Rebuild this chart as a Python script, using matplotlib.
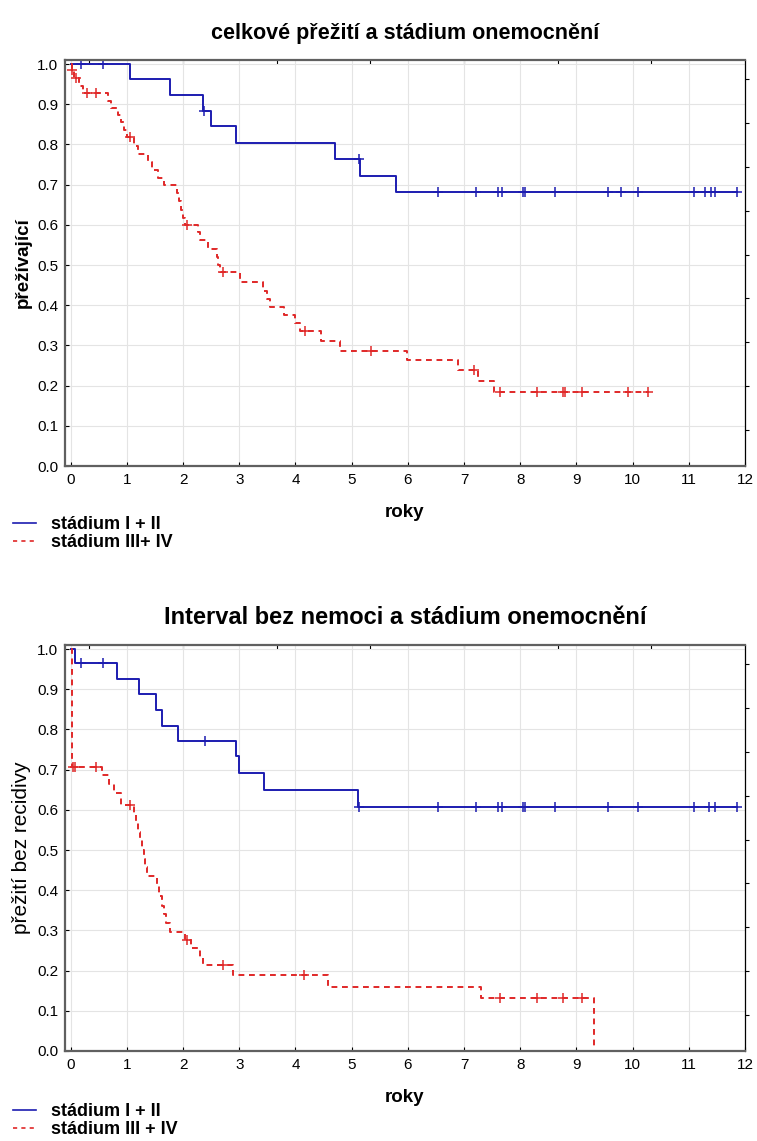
import numpy as np
import matplotlib
matplotlib.use("Agg")
import matplotlib.pyplot as plt
from matplotlib.lines import Line2D

plt.rcParams['font.family'] = ['Liberation Sans', 'DejaVu Sans']

# --- data: overall survival (top) ---
os_t_12 = [0, 1.06, 1.76, 2.35, 2.50, 2.95, 4.70, 5.15, 5.79]
os_s_12 = [1.0, 0.962, 0.923, 0.883, 0.845, 0.804, 0.764, 0.722, 0.681]
os_end_12 = 11.86
os_cens_12 = [0.19, 0.58, 2.38, 5.13, 6.53, 7.22, 7.61, 7.68, 8.05, 8.08, 8.62,
              9.57, 9.79, 10.10, 11.10, 11.29, 11.40, 11.46, 11.86]

os_t_34 = [0, 0.02, 0.06, 0.15, 0.22, 0.66, 0.72, 0.85, 0.90, 0.95, 1.00, 1.12,
           1.20, 1.38, 1.45, 1.55, 1.67, 1.89, 1.93, 1.97, 2.00, 2.03, 2.27, 2.30,
           2.45, 2.60, 2.63, 2.66, 3.01, 3.42, 3.50, 3.54, 3.80, 4.00, 4.08, 4.46,
           4.80, 5.98, 6.90, 7.25, 7.53]
os_s_34 = [1.0, 0.985, 0.964, 0.945, 0.927, 0.909, 0.891, 0.873, 0.855, 0.836,
           0.818, 0.797, 0.777, 0.757, 0.736, 0.717, 0.698, 0.678, 0.658, 0.638,
           0.618, 0.600, 0.581, 0.562, 0.541, 0.520, 0.500, 0.482, 0.457, 0.436,
           0.416, 0.395, 0.375, 0.355, 0.335, 0.310, 0.287, 0.264, 0.239, 0.212,
           0.185]
os_end_34 = 10.28
os_cens_34 = [0.03, 0.09, 0.30, 0.46, 1.05, 2.07, 2.72, 4.17, 5.35, 7.17, 7.64,
              8.30, 8.77, 8.80, 9.10, 9.91, 10.28]

# --- data: disease free interval (bottom) ---
dfi_t_12 = [0, 0.07, 0.82, 1.22, 1.52, 1.62, 1.91, 2.95, 2.99, 3.44, 5.11]
dfi_s_12 = [1.0, 0.964, 0.925, 0.887, 0.848, 0.809, 0.772, 0.733, 0.692, 0.650, 0.608]
dfi_end_12 = 11.86
dfi_cens_12 = [0.19, 0.58, 2.40, 5.13, 6.53, 7.22, 7.61, 7.68, 8.05, 8.08, 8.62,
               9.57, 10.10, 11.10, 11.36, 11.46, 11.86]

dfi_t_34 = [0, 0.02, 0.55, 0.68, 0.78, 0.90, 1.12, 1.16, 1.20, 1.24, 1.27, 1.30,
            1.33, 1.36, 1.53, 1.58, 1.62, 1.66, 1.70, 1.77, 2.03, 2.15, 2.30, 2.36,
            2.89, 4.58, 7.31, 9.32]
dfi_s_34 = [1.0, 0.707, 0.686, 0.664, 0.643, 0.611, 0.590, 0.568, 0.546, 0.524,
            0.500, 0.478, 0.457, 0.435, 0.410, 0.385, 0.360, 0.340, 0.318, 0.295,
            0.276, 0.255, 0.234, 0.213, 0.190, 0.160, 0.131, 0.0]
dfi_end_34 = 9.32
dfi_cens_34 = [0.04, 0.07, 0.46, 1.06, 2.07, 2.72, 4.16, 7.64, 8.30, 8.77, 9.10]

BLUE = '#1c1cb0'
RED = '#e02828'


def km(ax, t, s, end, cens, color, dashed):
    tt = list(t) + [end]
    ss = list(s) + [s[-1]]
    kw = dict(color=color, lw=1.4)
    if dashed:
        kw['dashes'] = (3.0, 2.4)
    ax.step(tt, ss, where='post', **kw)
    idx = np.searchsorted(t, cens, side='right') - 1
    cy = np.array(s)[idx]
    ax.plot(cens, cy, ls='none', marker='+', ms=7, mew=1.1, color=color)


def style(ax, title, tsize, ylabel, ysize, ybold):
    ax.set_xlim(-0.1, 12.0)
    ax.set_ylim(0, 1.01)
    ax.set_xticks(range(0, 13))
    ax.set_yticks(np.arange(0, 1.01, 0.1))
    ax.set_yticklabels([f'{v:.1f}' for v in np.arange(0, 1.01, 0.1)])
    ax.grid(True, color='#e4e4e4', lw=0.8)
    ax.set_axisbelow(True)
    ax.tick_params(direction='in', length=3, labelsize=11, pad=5)
    for side in ['left', 'top', 'bottom']:
        ax.spines[side].set_color('#606060')
        ax.spines[side].set_linewidth(1.6)
    ax.spines['right'].set_color('black')
    ax.spines['right'].set_linewidth(0.9)
    ax.set_title(title, fontsize=tsize, fontweight='bold', pad=15)
    ax.set_xlabel('roky', fontsize=13.5, fontweight='bold', labelpad=12)
    ax.set_ylabel(ylabel, fontsize=ysize, fontweight='bold' if ybold else 'normal',
                  labelpad=4)
    # secondary axis ticks as in the original export
    top = ax.secondary_xaxis('top')
    top.set_xticks(0.33 + 1.667 * np.arange(0, 7))
    top.set_xticklabels([])
    top.tick_params(direction='in', length=3)
    top.spines['top'].set_visible(False)
    right = ax.secondary_yaxis('right')
    right.set_yticks(0.962 - 0.109 * np.arange(0, 9))
    right.set_yticklabels([])
    right.tick_params(direction='out', length=3)
    right.spines['right'].set_visible(False)


fig = plt.figure(figsize=(7.57, 11.41), dpi=100)
W, H = 757, 1141
ax1 = fig.add_axes([65 / W, 1 - 466 / H, 680 / W, 406 / H])
ax2 = fig.add_axes([65 / W, 1 - 1051 / H, 680 / W, 406 / H])

km(ax1, os_t_12, os_s_12, os_end_12, os_cens_12, BLUE, False)
km(ax1, os_t_34, os_s_34, os_end_34, os_cens_34, RED, True)
style(ax1, 'celkové přežití a stádium onemocnění', 15.5, 'přežívající', 13.5, True)

km(ax2, dfi_t_12, dfi_s_12, dfi_end_12, dfi_cens_12, BLUE, False)
km(ax2, dfi_t_34, dfi_s_34, dfi_end_34, dfi_cens_34, RED, True)
style(ax2, 'Interval bez nemoci a stádium onemocnění', 17, 'přežití bez recidivy', 15, False)

# legends below each chart
h_blue = Line2D([], [], color=BLUE, lw=1.2)
h_red = Line2D([], [], color=RED, lw=1.2, dashes=(2.5, 2.5))
for y, lab2 in [(509, 'stádium III+ IV'), (1096, 'stádium III + IV')]:
    fig.legend([h_blue, h_red], ['stádium I + II', lab2], loc='upper left',
               bbox_to_anchor=(0.008, 1 - y / H), frameon=False,
               prop={'weight': 'bold', 'size': 13}, handlelength=1.25,
               handletextpad=0.85, labelspacing=0.05, borderaxespad=0)

fig.savefig('out.png', dpi=100)
